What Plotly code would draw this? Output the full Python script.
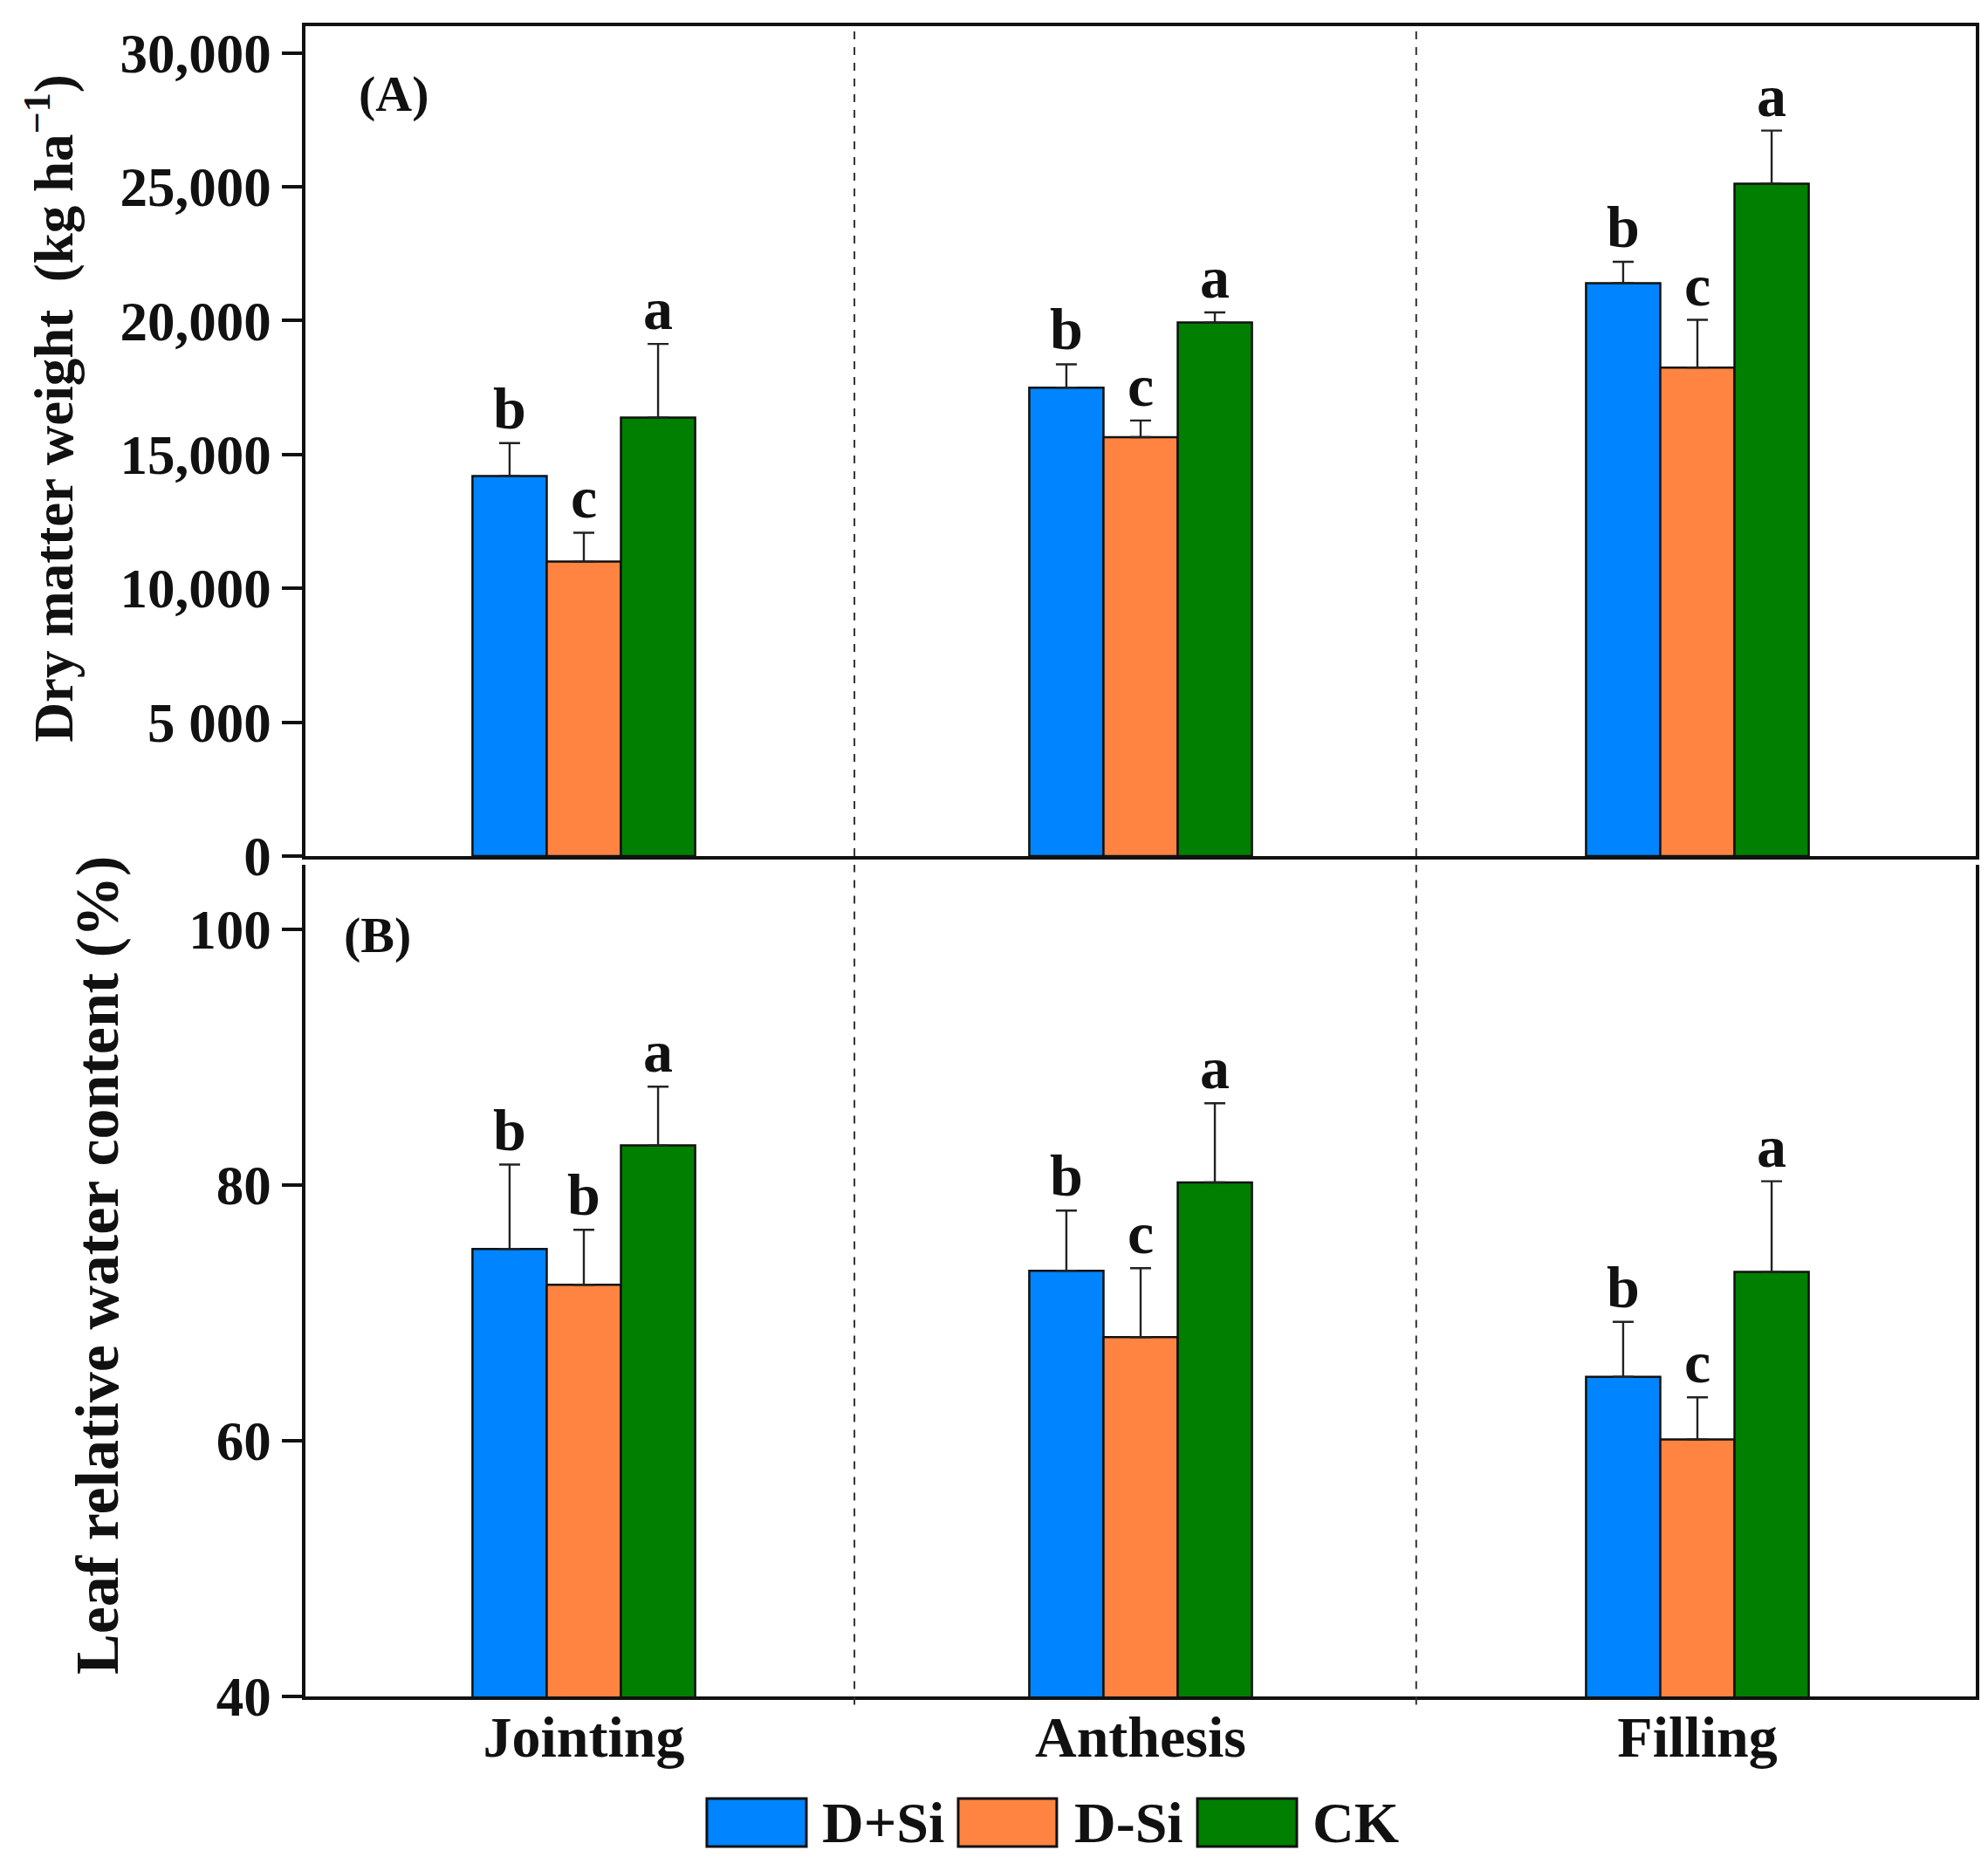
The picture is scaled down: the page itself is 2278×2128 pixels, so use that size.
import plotly.graph_objects as go

stages = ["Jointing", "Anthesis", "Filling"]
treatments = ["D+Si", "D-Si", "CK"]
colors = ["#0084FF", "#FF8442", "#007F00"]

# Panel A: dry matter weight (kg ha-1)
dm_mean = {
    "D+Si": [14200, 17500, 21400],
    "D-Si": [11000, 15650, 18250],
    "CK":   [16380, 19930, 25120],
}
dm_err = {
    "D+Si": [1230, 870, 800],
    "D-Si": [1080, 620, 1780],
    "CK":   [2750, 380, 1980],
}
dm_letters = {
    "D+Si": ["b", "b", "b"],
    "D-Si": ["c", "c", "c"],
    "CK":   ["a", "a", "a"],
}

# Panel B: leaf relative water content (%)
rwc_mean = {
    "D+Si": [75.0, 73.3, 65.0],
    "D-Si": [72.2, 68.1, 60.1],
    "CK":   [83.1, 80.2, 73.2],
}
rwc_err = {
    "D+Si": [6.6, 4.7, 4.3],
    "D-Si": [4.3, 5.4, 3.3],
    "CK":   [4.6, 6.2, 7.1],
}
rwc_letters = {
    "D+Si": ["b", "b", "b"],
    "D-Si": ["b", "c", "c"],
    "CK":   ["a", "a", "a"],
}

dm_tickvals = [0, 5000, 10000, 15000, 20000, 25000, 30000]
dm_ticktext = ["0", "5 000", "10,000", "15,000", "20,000", "25,000", "30,000"]
rwc_tickvals = [40, 60, 80, 100]

FONT = "Liberation Serif"
BLACK = "#111111"
BARGAP = 0.6
bar_w = (1 - BARGAP) / len(treatments)

fig = go.Figure()

for k, t in enumerate(treatments):
    fig.add_trace(go.Bar(
        x=stages, y=dm_mean[t], name=t, marker_color=colors[k],
        marker_line=dict(color=BLACK, width=2.5),
        error_y=dict(type="data", symmetric=False, array=dm_err[t],
                     arrayminus=[0] * len(stages), color="#222222",
                     thickness=2.4, width=12),
        xaxis="x", yaxis="y", showlegend=False, offsetgroup=str(k)))
    fig.add_trace(go.Bar(
        x=stages, y=rwc_mean[t], name=t, marker_color=colors[k],
        marker_line=dict(color=BLACK, width=2.5),
        error_y=dict(type="data", symmetric=False, array=rwc_err[t],
                     arrayminus=[0] * len(stages), color="#222222",
                     thickness=2.4, width=12),
        xaxis="x2", yaxis="y2", showlegend=False, offsetgroup=str(k)))

letter_font = dict(family=FONT, size=68, color=BLACK, weight="bold")
annotations = []
for k, t in enumerate(treatments):
    off = (k - 1) * bar_w
    for i, s in enumerate(stages):
        annotations.append(dict(
            x=i + off, y=dm_mean[t][i] + dm_err[t][i], xref="x", yref="y",
            text=dm_letters[t][i], showarrow=False, yanchor="bottom", yshift=0,
            font=letter_font))
        annotations.append(dict(
            x=i + off, y=rwc_mean[t][i] + rwc_err[t][i], xref="x2", yref="y2",
            text=rwc_letters[t][i], showarrow=False, yanchor="bottom", yshift=0,
            font=letter_font))

# panel labels
annotations.append(dict(x=0.031, y=0.918, xref="x domain", yref="y domain",
                        text="(A)", showarrow=False, xanchor="left", yanchor="middle",
                        font=dict(family=FONT, size=58, color=BLACK, weight="bold")))
annotations.append(dict(x=0.022, y=0.916, xref="x2 domain", yref="y2 domain",
                        text="(B)", showarrow=False, xanchor="left", yanchor="middle",
                        font=dict(family=FONT, size=58, color=BLACK, weight="bold")))

# y-axis titles
annotations.append(dict(x=-0.153, y=0.771, xref="paper", yref="paper",
                        text="Dry matter weight  (kg ha<sup>−1</sup>)", textangle=-90,
                        showarrow=False, xanchor="center", yanchor="middle",
                        font=dict(family=FONT, size=63, color=BLACK, weight="bold")))
annotations.append(dict(x=-0.125, y=0.258, xref="paper", yref="paper",
                        text="Leaf relative water content (%)", textangle=-90,
                        showarrow=False, xanchor="center", yanchor="middle",
                        font=dict(family=FONT, size=70, color=BLACK, weight="bold")))

# custom legend (large swatches as in the reference)
leg_box_x = [(0.2403, 0.2999), (0.3908, 0.4498), (0.5340, 0.5935)]
leg_text_x = [0.3080, 0.4590, 0.6020]
shapes = []
for k, t in enumerate(treatments):
    x0, x1 = leg_box_x[k]
    shapes.append(dict(type="rect", xref="paper", yref="paper", x0=x0, x1=x1,
                       y0=-0.0899, y1=-0.0611, fillcolor=colors[k],
                       line=dict(color=BLACK, width=3)))
    annotations.append(dict(x=leg_text_x[k], y=-0.0755, xref="paper", yref="paper",
                            text=t, showarrow=False, xanchor="left", yanchor="middle",
                            font=dict(family=FONT, size=66, color=BLACK, weight="bold")))

# dashed separators between stages spanning both panels
for xv in [0.486, 1.495]:
    shapes.append(dict(type="line", xref="x", yref="y domain", x0=xv, x1=xv, y0=0, y1=1,
                       line=dict(color="#333333", width=2, dash="dash")))
    shapes.append(dict(type="line", xref="x2", yref="y2 domain", x0=xv, x1=xv, y0=-0.01, y1=1,
                       line=dict(color="#333333", width=2, dash="dash")))

axis_font = dict(family=FONT, size=63, color=BLACK, weight="bold")

fig.update_layout(
    width=2278, height=2128,
    margin=dict(l=342, r=22, t=22, b=192),
    paper_bgcolor="white", plot_bgcolor="white",
    barmode="group", bargap=BARGAP, bargroupgap=0,
    showlegend=False,
    xaxis=dict(domain=[0, 1], anchor="y", range=[-0.5, 2.5], showticklabels=False,
               ticks="", showline=True, linecolor=BLACK, linewidth=3.5, mirror=True,
               showgrid=False, zeroline=False, type="category"),
    yaxis=dict(domain=[0.5031, 1], anchor="x", range=[0, 31000],
               tickvals=dm_tickvals, ticktext=dm_ticktext, tickfont=axis_font,
               ticks="outside", ticklen=23, tickwidth=3.5, tickcolor=BLACK,
               showline=True, linecolor=BLACK, linewidth=3.5, mirror=True,
               showgrid=False, zeroline=False),
    xaxis2=dict(domain=[0, 1], anchor="y2", range=[-0.5, 2.5],
                tickfont=dict(family=FONT, size=66, color=BLACK, weight="bold"),
                ticks="", ticklabelstandoff=-14,
                showline=True, linecolor=BLACK, linewidth=3.5, mirror=False,
                showgrid=False, zeroline=False, type="category"),
    yaxis2=dict(domain=[0, 0.4979], anchor="x2", range=[40, 105.05],
                tickvals=rwc_tickvals, tickfont=axis_font,
                ticks="outside", ticklen=23, tickwidth=3.5, tickcolor=BLACK,
                showline=True, linecolor=BLACK, linewidth=3.5, mirror=True,
                showgrid=False, zeroline=False),
    annotations=annotations,
    shapes=shapes,
)

fig.write_html("out.html")
